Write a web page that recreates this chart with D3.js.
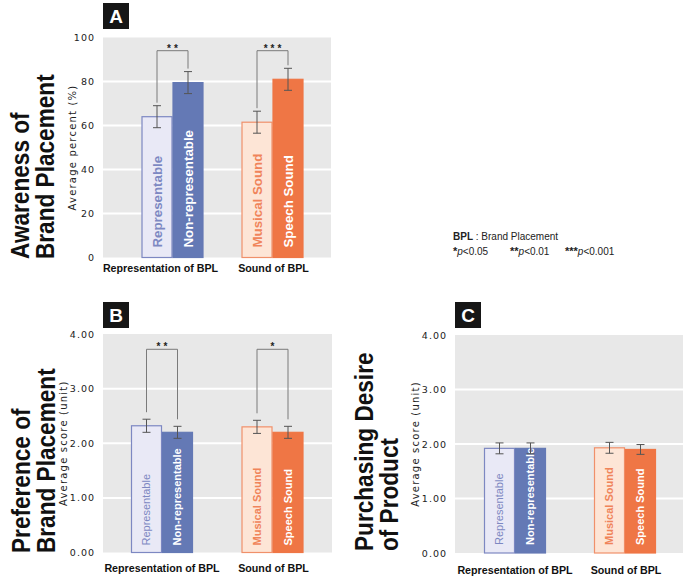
<!DOCTYPE html>
<html>
<head>
<meta charset="utf-8">
<script src="https://cdn.jsdelivr.net/npm/d3@7"></script>
<style>
  body { margin: 0; background: #fff; }
  svg { display: block; font-family: "Liberation Sans", Arial, sans-serif; }
</style>
</head>
<body>
<script>
// groups and conditions
const groups = ["Representation of BPL", "Sound of BPL"];
const conditions = ["Representable", "Non-representable", "Musical Sound", "Speech Sound"];

// A: awareness (%)
const awarenessMean = [64, 79.5, 61.5, 81];
const awarenessErr = [5, 5, 5, 5];
const awarenessSig = ["**", "***"];
const percentTicks = [0, 20, 40, 60, 80, 100];

// B: preference (score)
const preferenceMean = [2.32, 2.20, 2.30, 2.20];
const preferenceErr = [0.12, 0.11, 0.12, 0.11];
const preferenceSig = ["**", "*"];

// C: purchasing desire (score)
const purchaseMean = [1.92, 1.92, 1.93, 1.90];
const purchaseErr = [0.10, 0.10, 0.10, 0.09];
const purchaseSig = [null, null];

const scoreTicks = [0, 1, 2, 3, 4];

const fills = ["#e9e9f6", "#6479b5", "#fde5d6", "#ef7645"];
const strokes = ["#7d88c2", "#6479b5", "#f0906a", "#ef7645"];
const labelColors = ["#7d88c2", "#ffffff", "#f0845a", "#ffffff"];

const width = 685, height = 577;
const svg = d3.select("body").append("svg")
  .attr("width", width).attr("height", height);

const panels = [
  { id: "A", means: awarenessMean, errs: awarenessErr, sig: awarenessSig,
    ticks: percentTicks, fmt: d3.format("d"), domain: [0, 100],
    yLabel: "Average percent (%)", title: ["Awareness of", "Brand Placement"],
    left: 103, right: 331, top: 37.5, bottom: 257.5,
    groupRange: [172.5, 272.5], catShift: [-12, 1], catDy: 14.5,
    titleX: 29, titleY: 259, yLabelX: 72, boxY: 3,
    bracketAt: 94, bracketGap: 3, barFont: 13.3, repWeight: "bold", labelPad: 10 },
  { id: "B", means: preferenceMean, errs: preferenceErr, sig: preferenceSig,
    ticks: scoreTicks, fmt: d3.format(".2f"), domain: [0, 4],
    yLabel: "Average score (unit)", title: ["Preference of", "Brand Placement"],
    left: 103, right: 332, top: 334, bottom: 552.5,
    groupRange: [162, 272.5], catShift: [0, 1], catDy: 19,
    titleX: 30, titleY: 553, yLabelX: 63, boxY: 302,
    bracketAt: 3.72, bracketGap: 7, barFont: 11, repWeight: "normal", labelPad: 7 },
  { id: "C", means: purchaseMean, errs: purchaseErr, sig: purchaseSig,
    ticks: scoreTicks, fmt: d3.format(".2f"), domain: [0, 4],
    yLabel: "Average score (unit)", title: ["Purchasing Desire", "of Product"],
    left: 455, right: 683, top: 335, bottom: 553,
    groupRange: [515, 625], catShift: [0, 1], catDy: 21,
    titleX: 373, titleY: 551, yLabelX: 415, boxY: 302,
    bracketAt: null, bracketGap: 7, barFont: 11, repWeight: "normal", labelPad: 8 }
];

panels.forEach(function (p) {
  const g = svg.append("g");
  const y = d3.scaleLinear().domain(p.domain).range([p.bottom, p.top]);
  const gx = d3.scalePoint().domain(groups).range(p.groupRange);
  const inner = d3.scaleBand().domain([0, 1]).range([-31, 31]);

  // background + grid
  g.append("rect").attr("x", p.left).attr("y", p.top)
    .attr("width", p.right - p.left).attr("height", p.bottom - p.top)
    .attr("fill", "#e8e8e8");
  g.selectAll(".grid").data(p.ticks.slice(1, -1)).enter().append("line")
    .attr("x1", p.left).attr("x2", p.right)
    .attr("y1", function (d) { return y(d); }).attr("y2", function (d) { return y(d); })
    .attr("stroke", "#ffffff").attr("stroke-width", 2);

  // y axis (labels only)
  const ax = g.append("g").attr("transform", "translate(" + (p.left - 5) + ",0)")
    .call(d3.axisLeft(y).tickValues(p.ticks).tickSize(0).tickFormat(p.fmt));
  ax.select(".domain").remove();
  ax.selectAll("text").attr("font-family", "'DejaVu Sans', sans-serif")
    .attr("font-size", 9.5).attr("letter-spacing", "1px").attr("fill", "#222");

  g.append("text")
    .attr("transform", "translate(" + p.yLabelX + "," + ((p.top + p.bottom) / 2) + ") rotate(-90)")
    .attr("text-anchor", "middle").attr("dominant-baseline", "central")
    .attr("font-family", "'DejaVu Sans', sans-serif")
    .attr("font-size", 10).attr("letter-spacing", "1.2px").attr("fill", "#222")
    .text(p.yLabel);

  // big rotated title
  const tg = g.append("g")
    .attr("transform", "translate(" + p.titleX + "," + p.titleY + ") rotate(-90) scale(0.86,1)");
  tg.selectAll("text").data(p.title).enter().append("text")
    .attr("x", 0).attr("y", function (d, i) { return i * 25.5; })
    .attr("font-size", 26.3).attr("font-weight", "bold").attr("fill", "#111")
    .text(function (d) { return d; });

  // panel letter box
  g.append("rect").attr("x", p.left).attr("y", p.boxY).attr("width", 26).attr("height", 26)
    .attr("fill", "#161616");
  g.append("text").attr("x", p.left + 13).attr("y", p.boxY + 20)
    .attr("text-anchor", "middle").attr("font-size", 19).attr("font-weight", "bold")
    .attr("fill", "#fff").text(p.id);

  // bars
  const rows = p.means.map(function (m, i) {
    const gi = Math.floor(i / 2), k = i % 2;
    const cx = gx(groups[gi]) + inner(k);
    return { i: i, name: conditions[i], mean: m, err: p.errs[i], x0: cx, x1: cx + inner.bandwidth() };
  });

  g.selectAll(".bar").data(rows).enter().append("rect")
    .attr("x", function (d) { return d.x0 + 0.5; })
    .attr("y", function (d) { return y(d.mean); })
    .attr("width", function (d) { return d.x1 - d.x0 - 1; })
    .attr("height", function (d) { return y(0) - y(d.mean); })
    .attr("fill", function (d) { return fills[d.i]; })
    .attr("stroke", function (d) { return strokes[d.i]; })
    .attr("stroke-width", 1.2);

  // labels inside bars
  g.selectAll(".blabel").data(rows).enter().append("text")
    .attr("transform", function (d) {
      return "translate(" + ((d.x0 + d.x1) / 2 + p.barFont * 0.36) + "," + (y(0) - p.labelPad) + ") rotate(-90)";
    })
    .attr("font-size", p.barFont)
    .attr("font-weight", function (d) { return d.i === 0 ? p.repWeight : "bold"; })
    .attr("fill", function (d) { return labelColors[d.i]; })
    .text(function (d) { return d.name; });

  // error bars
  const eb = g.selectAll(".err").data(rows).enter().append("g")
    .attr("stroke", "#555").attr("stroke-width", 1).attr("fill", "none");
  eb.append("line")
    .attr("x1", function (d) { return (d.x0 + d.x1) / 2; }).attr("x2", function (d) { return (d.x0 + d.x1) / 2; })
    .attr("y1", function (d) { return y(d.mean - d.err); }).attr("y2", function (d) { return y(d.mean + d.err); });
  [-1, 1].forEach(function (s) {
    eb.append("line")
      .attr("x1", function (d) { return (d.x0 + d.x1) / 2 - 4; }).attr("x2", function (d) { return (d.x0 + d.x1) / 2 + 4; })
      .attr("y1", function (d) { return y(d.mean + s * d.err); }).attr("y2", function (d) { return y(d.mean + s * d.err); });
  });

  // significance brackets
  if (p.bracketAt !== null) {
    groups.forEach(function (grp, gi) {
      if (!p.sig[gi]) return;
      const a = rows[gi * 2], b = rows[gi * 2 + 1];
      const xa = (a.x0 + a.x1) / 2, xb = (b.x0 + b.x1) / 2, yt = y(p.bracketAt);
      g.append("path")
        .attr("d", "M" + xa + "," + (y(a.mean + a.err) - p.bracketGap) + "V" + yt + "H" + xb +
          "V" + (y(b.mean + b.err) - p.bracketGap))
        .attr("fill", "none").attr("stroke", "#7a7a7a").attr("stroke-width", 1);
      g.append("text").attr("x", (xa + xb) / 2 + 1.5).attr("y", yt + 1)
        .attr("text-anchor", "middle").attr("font-size", 10).attr("font-weight", "bold")
        .attr("letter-spacing", "3px").attr("fill", "#222").text(p.sig[gi]);
    });
  }

  // group labels
  g.selectAll(".cat").data(groups).enter().append("text")
    .attr("x", function (d, i) { return gx(d) + p.catShift[i]; })
    .attr("y", p.bottom + p.catDy)
    .attr("text-anchor", "middle").attr("font-size", 10.7).attr("font-weight", "bold")
    .attr("fill", "#111").text(function (d) { return d; });
});

// legend
const leg = svg.append("g").attr("font-size", 10).attr("fill", "#222");
const l1 = leg.append("text").attr("x", 453).attr("y", 240);
l1.append("tspan").attr("font-weight", "bold").text("BPL");
l1.append("tspan").text(" : Brand Placement");
const sigLegend = [["*", "<0.05", 453], ["**", "<0.01", 510], ["***", "<0.001", 565]];
sigLegend.forEach(function (s) {
  const t = leg.append("text").attr("x", s[2]).attr("y", 255);
  t.append("tspan").attr("font-weight", "bold").attr("font-size", 11).text(s[0]);
  t.append("tspan").attr("font-style", "italic").text("p");
  t.append("tspan").text(s[1]);
});
</script>
</body>
</html>
